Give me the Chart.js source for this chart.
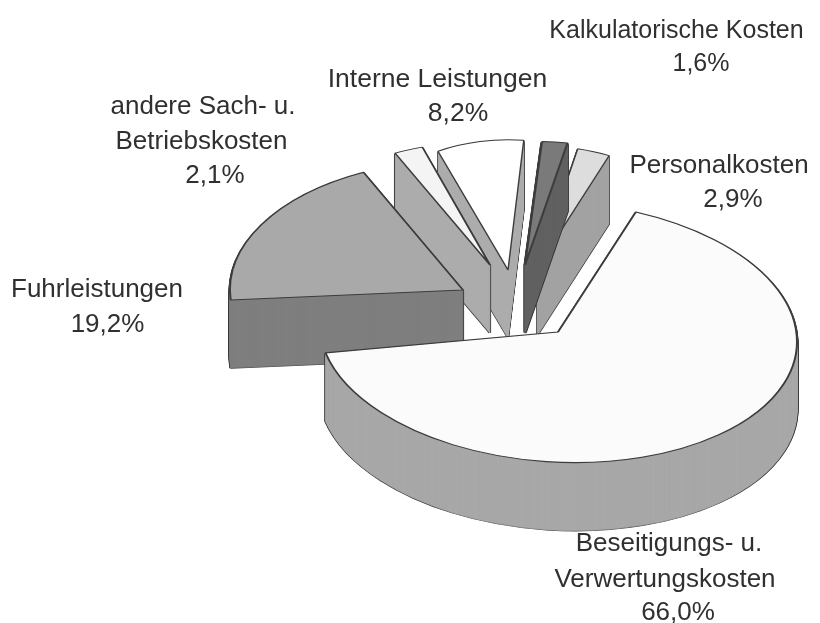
<!DOCTYPE html>
<html>
<head>
<meta charset="utf-8">
<title>Kostenstruktur</title>
<script src="https://cdn.jsdelivr.net/npm/chart.js@4"></script>
<style>
  html, body { margin: 0; padding: 0; background: #fff; }
  #wrap { width: 820px; height: 623px; }
</style>
</head>
<body>
<div id="wrap"><canvas id="pieChart" width="820" height="623"></canvas></div>
<script>
const categories = [
  "Beseitigungs- u.|Verwertungskosten",
  "Fuhrleistungen",
  "andere Sach- u.|Betriebskosten",
  "Interne Leistungen",
  "Kalkulatorische Kosten",
  "Personalkosten",
];
const shares = [66.0, 19.2, 2.1, 8.2, 1.6, 2.9];

const topColors = ["#fbfbfb", "#a9a9a9", "#f4f4f4", "#ffffff", "#7a7a7a", "#dddddd"];
const wallColors = ["#a8a8a8", "#7f7f7f", "#acacac", "#acacac", "#626262", "#a2a2a2"];

// how far each slice is pulled out of the pie, and how it is bent to fake the perspective
const explodeX = [0, -95, -68, -50, -33, -21];
const explodeY = [0, -42, -67, -62, -67, -64];
const turnDeg = [1, 10, 10, 3.5, 2, 5.4];
const scaleX = [1, 0.975, 0.93, 0.714, 1.07, 0.76];
const scaleY = [1, 1, 0.95, 1, 0.95, 0.94];
const shear = [0.04, 0, 0, 0, 0, 0];

// label lines: centre x and baseline y per line, the scan is not aligned so each line has its own
const labelX = [[669, 665, 678], [97, 107.5], [203, 201.5, 215], [437.5, 458], [676.5, 701], [719, 733]];
const labelY = [[551, 587, 620], [297, 332], [114, 149, 183], [87, 121], [38, 71], [173, 207]];
const labelSize = [26, 26, 26, 26.5, 25, 26];

const pieY = 332;
const tilt = 0.545;
const depth = 68;
const drawOrder = [5, 4, 3, 2, 1, 0];

function drawSlice(ctx, el, i, drop, opts) {
  const saved = el.options;
  el.options = Object.assign({}, saved, opts);
  ctx.save();
  ctx.translate(el.x + explodeX[i], pieY + explodeY[i] + drop);
  ctx.transform(1, shear[i], 0, 1, 0, 0);
  ctx.scale(scaleX[i], tilt * scaleY[i]);
  ctx.rotate((turnDeg[i] * Math.PI) / 180);
  ctx.translate(-el.x, -el.y);
  el.draw(ctx);
  ctx.restore();
  el.options = saved;
}

const tiltedPie = {
  id: "tiltedPie",
  beforeDatasetsDraw(chart) {
    const ctx = chart.ctx;
    const arcs = chart.getDatasetMeta(0).data;
    drawOrder.forEach((i) => {
      const el = arcs[i];
      for (let d = depth; d > 0; d--) {
        drawSlice(ctx, el, i, d, { backgroundColor: "#3c3c3c", borderColor: "#3c3c3c", borderWidth: 3 });
      }
      for (let d = depth; d > 0; d--) {
        drawSlice(ctx, el, i, d, { backgroundColor: wallColors[i], borderColor: wallColors[i], borderWidth: 1 });
      }
      drawSlice(ctx, el, i, 0, { backgroundColor: topColors[i], borderColor: "#3c3c3c", borderWidth: 2 });
    });
    return false;
  },
  afterDraw(chart) {
    const ctx = chart.ctx;
    ctx.save();
    ctx.fillStyle = "#303030";
    ctx.textAlign = "center";
    categories.forEach((name, i) => {
      ctx.font = labelSize[i] + "px 'Liberation Sans'";
      const lines = name.split("|");
      lines.push(shares[i].toFixed(1).replace(".", ",") + "%");
      lines.forEach((line, n) => {
        ctx.fillText(line, labelX[i][n], labelY[i][n]);
      });
    });
    ctx.restore();
  },
};

new Chart(document.getElementById("pieChart"), {
  type: "pie",
  data: {
    labels: categories,
    datasets: [{ data: shares, backgroundColor: topColors, borderWidth: 0 }],
  },
  options: {
    responsive: false,
    animation: false,
    rotation: 18,
    layout: { padding: { left: 319, right: 23, top: 72, bottom: 73 } },
    plugins: { legend: { display: false }, tooltip: { enabled: false } },
  },
  plugins: [tiltedPie],
});
</script>
</body>
</html>
